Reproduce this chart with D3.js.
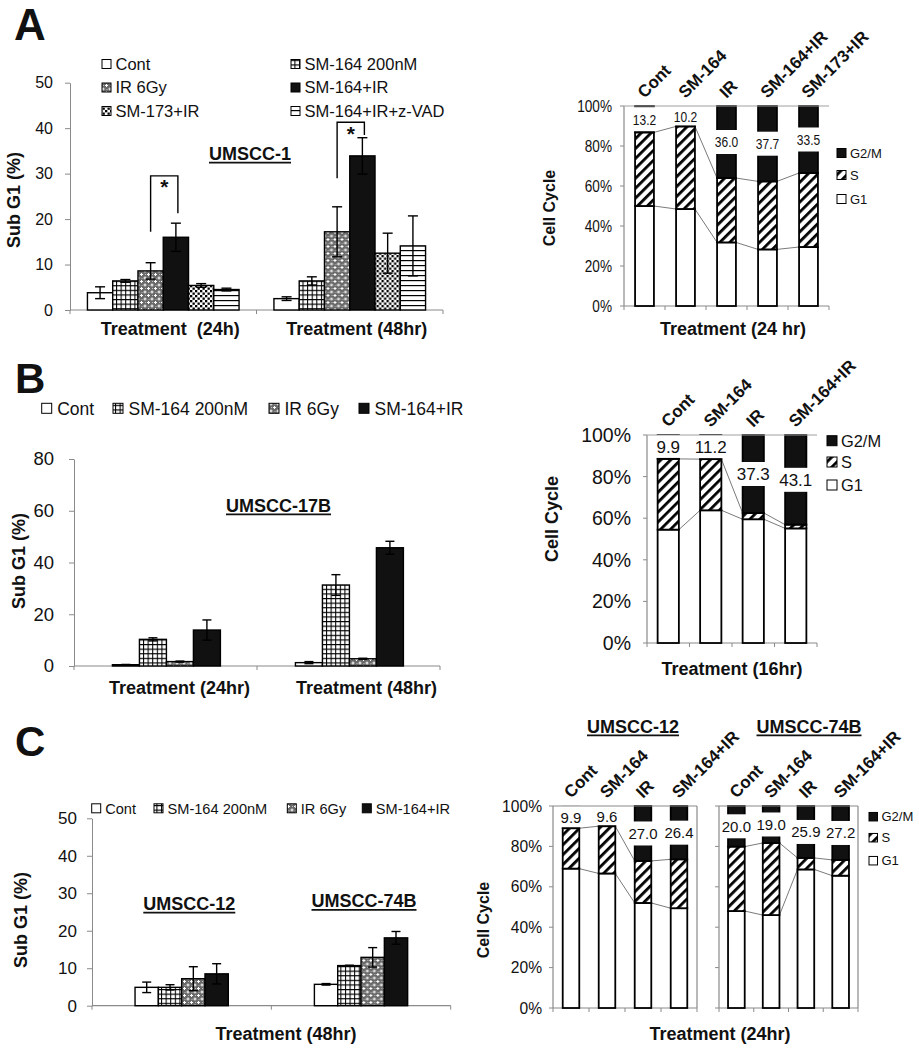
<!DOCTYPE html>
<html><head><meta charset="utf-8">
<script src="https://cdn.jsdelivr.net/npm/d3@7"></script>
<style>body{margin:0;background:#fff}svg{display:block}</style>
</head><body><svg id="c" width="919" height="1050"></svg>
<script>
// ---------------- DATA ----------------
// Panel A (left): Sub G1, UMSCC-1
const aGroups = ["Treatment  (24h)", "Treatment (48hr)"];
const aSeries = ["Cont", "SM-164 200nM", "IR 6Gy", "SM-164+IR", "SM-173+IR", "SM-164+IR+z-VAD"];
const aVal24 = [3.8, 6.4, 8.6, 16.0, 5.4, 4.5];
const aErr24 = [1.3, 0.3, 1.8, 3.1, 0.4, 0.3];
const aVal48 = [2.5, 6.4, 17.2, 33.9, 12.5, 14.1];
const aErr48 = [0.4, 0.9, 5.5, 4.0, 4.4, 6.6];
const aTicks = [0, 10, 20, 30, 40, 50];
const aSigTop = [29.5, 41.3];
const aSigLeftEnd = [17.2, 29.0];
const aSigRightEnd = [21.3, 38.5];

// Panel A (right): cell cycle 24 hr
const ccACats = ["Cont", "SM-164", "IR", "SM-164+IR", "SM-173+IR"];
const ccAG1 = [50.0, 48.5, 31.8, 28.3, 29.5];
const ccAS = [36.8, 41.3, 32.2, 34.0, 37.0];
const ccAG2M = [13.2, 10.2, 36.0, 37.7, 33.5];

// Panel B (left): Sub G1, UMSCC-17B
const bGroups = ["Treatment (24hr)", "Treatment (48hr)"];
const bSeries = ["Cont", "SM-164 200nM", "IR 6Gy", "SM-164+IR"];
const bVal24 = [0.5, 10.3, 1.7, 13.9];
const bErr24 = [0.1, 0.6, 0.2, 3.9];
const bVal48 = [1.3, 31.3, 2.8, 45.7];
const bErr48 = [0.4, 4.0, 0.2, 2.5];
const bTicks = [0, 20, 40, 60, 80];

// Panel B (right): cell cycle 16 hr
const ccBCats = ["Cont", "SM-164", "IR", "SM-164+IR"];
const ccBG1 = [54.5, 63.8, 59.5, 55.1];
const ccBS = [34.0, 24.6, 3.0, 1.8];
const ccBG2M = [9.9, 11.2, 37.3, 43.1];

// Panel C (left): Sub G1 48hr
const cGroups = ["UMSCC-12", "UMSCC-74B"];
const cSeries = ["Cont", "SM-164 200nM", "IR 6Gy", "SM-164+IR"];
const cVal12 = [4.9, 4.9, 7.2, 8.5];
const cErr12 = [1.4, 0.7, 3.2, 2.7];
const cVal74 = [5.7, 10.7, 12.9, 18.1];
const cErr74 = [0.2, 0.1, 2.6, 1.7];
const cTicks = [0, 10, 20, 30, 40, 50];

// Panel C (right): cell cycle 24hr
const ccCCats = ["Cont", "SM-164", "IR", "SM-164+IR"];
const cc12G1 = [69.0, 66.6, 52.0, 49.4];
const cc12S = [20.0, 23.4, 20.8, 24.2];
const cc12G2M = [9.9, 9.6, 27.0, 26.4];
const cc74G1 = [48.0, 46.0, 68.6, 65.5];
const cc74S = [31.9, 35.7, 5.7, 7.8];
const cc74G2M = [20.0, 19.0, 25.9, 27.2];
const ccTicks = [0, 20, 40, 60, 80, 100];

// ---------------- DRAWING ----------------
const FONT = '"Liberation Sans", Arial, Helvetica, sans-serif';
const AX = "#8a8a8a";
const svg = d3.select("#c").attr("font-family", FONT);
svg.append("rect").attr("width", 919).attr("height", 1050).attr("fill", "#fff");
const defs = svg.append("defs");

function pat(id, w, h, draw, tr) {
  const p = defs.append("pattern").attr("id", id).attr("patternUnits", "userSpaceOnUse")
    .attr("width", w).attr("height", h);
  if (tr) p.attr("patternTransform", tr);
  draw(p);
}
pat("grid", 4.6, 4.6, p => {
  p.append("rect").attr("width", 4.6).attr("height", 4.6).attr("fill", "#fff");
  p.append("path").attr("d", "M0,0.5H4.6M0.5,0V4.6").attr("stroke", "#000").attr("stroke-width", 1.1);
});
pat("ir", 7, 7, p => {
  p.append("rect").attr("width", 7).attr("height", 7).attr("fill", "#6a6a6a");
  p.append("rect").attr("x", 0).attr("y", 1).attr("width", 3).attr("height", 1).attr("fill", "#fff");
  p.append("rect").attr("x", 1).attr("y", 0).attr("width", 1).attr("height", 3).attr("fill", "#fff");
  p.append("rect").attr("x", 3.5).attr("y", 4.5).attr("width", 3).attr("height", 1).attr("fill", "#fff");
  p.append("rect").attr("x", 4.5).attr("y", 3.5).attr("width", 1).attr("height", 3).attr("fill", "#fff");
  p.append("rect").attr("x", 5).attr("y", 1).attr("width", 1).attr("height", 1).attr("fill", "#bbb");
  p.append("rect").attr("x", 1.5).attr("y", 5).attr("width", 1).attr("height", 1).attr("fill", "#bbb");
});
pat("spots", 5, 5, p => {
  p.append("rect").attr("width", 5).attr("height", 5).attr("fill", "#fff");
  p.append("rect").attr("x", 0).attr("y", 0).attr("width", 2.3).attr("height", 2.3).attr("fill", "#000");
  p.append("rect").attr("x", 2.5).attr("y", 2.5).attr("width", 2.3).attr("height", 2.3).attr("fill", "#000");
});
pat("hlines", 6, 5, p => {
  p.append("rect").attr("width", 6).attr("height", 5).attr("fill", "#fff");
  p.append("rect").attr("x", 0).attr("y", 0).attr("width", 6).attr("height", 1.2).attr("fill", "#000");
});
pat("hatch", 7, 7, p => {
  p.append("rect").attr("width", 7).attr("height", 7).attr("fill", "#fff");
  p.append("rect").attr("x", 0).attr("y", 0).attr("width", 2.8).attr("height", 7).attr("fill", "#000");
}, "rotate(45)");

const fills = {
  "Cont": "#fff", "SM-164 200nM": "url(#grid)", "IR 6Gy": "url(#ir)",
  "SM-164+IR": "#111", "SM-173+IR": "url(#spots)", "SM-164+IR+z-VAD": "url(#hlines)"
};

function txt(g, x, y, s, o = {}) {
  const t = g.append("text").text(s)
    .attr("font-size", o.size || 14)
    .attr("font-weight", o.bold ? "bold" : "normal")
    .attr("text-anchor", o.anchor || "start")
    .attr("fill", o.fill || "#111");
  let tr = `translate(${x},${y})`;
  if (o.rotate) tr += ` rotate(${o.rotate})`;
  if (o.sx) tr += ` scale(${o.sx},1)`;
  t.attr("transform", tr);
  if (o.pre) t.style("white-space", "pre");
  return t;
}
function underlined(g, x, y, s, size) {
  const t = txt(g, x, y, s, { size, bold: true, anchor: "middle" });
  const w = t.node().getComputedTextLength();
  g.append("line").attr("x1", x - w / 2).attr("x2", x + w / 2)
    .attr("y1", y + 2.6).attr("y2", y + 2.6).attr("stroke", "#111").attr("stroke-width", 1.7);
}

// ---------- Sub G1 grouped bar chart ----------
function subG1(cfg) {
  const g = svg.append("g");
  const y = d3.scaleLinear().domain([0, cfg.max]).range([cfg.yb, cfg.yt]);
  const x0 = d3.scaleBand().domain(cfg.groups).range([cfg.x0, cfg.x1]);
  const bw = x0.bandwidth();
  const x1 = d3.scaleBand().domain(cfg.series).range([bw * cfg.inner[0], bw * cfg.inner[1]]);
  const ya = d3.axisLeft(y).tickValues(cfg.ticks).tickSize(5).tickSizeOuter(0)
    .tickPadding(cfg.tickPad).tickFormat(d3.format("d"));
  const yg = g.append("g").attr("transform", `translate(${cfg.x0},0)`).call(ya)
    .attr("font-family", FONT);
  yg.select(".domain").attr("stroke", AX);
  yg.selectAll(".tick line").attr("stroke", AX);
  yg.selectAll(".tick text").attr("font-size", cfg.tickFont).attr("fill", "#111");
  g.append("line").attr("x1", cfg.x0).attr("x2", cfg.x1).attr("y1", cfg.yb).attr("y2", cfg.yb)
    .attr("stroke", AX).attr("stroke-width", 1.2);
  const bounds = cfg.groups.map(d => x0(d)).concat([cfg.x1]);
  g.selectAll(null).data(bounds).join("line")
    .attr("x1", d => d).attr("x2", d => d).attr("y1", cfg.yb).attr("y2", cfg.yb + 4)
    .attr("stroke", AX);
  cfg.groups.forEach((grp, gi) => {
    const gg = g.append("g").attr("transform", `translate(${x0(grp)},0)`);
    const rows = cfg.series.map((s, si) => ({ s, v: cfg.vals[gi][si], e: cfg.errs[gi][si] }));
    gg.selectAll("rect.bar").data(rows).join("rect").attr("class", "bar")
      .attr("x", d => x1(d.s)).attr("width", x1.bandwidth())
      .attr("y", d => y(d.v)).attr("height", d => cfg.yb - y(d.v))
      .attr("fill", d => fills[d.s]).attr("stroke", "#000").attr("stroke-width", 1.4);
    const eb = gg.selectAll("g.err").data(rows).join("g").attr("class", "err")
      .attr("transform", d => `translate(${x1(d.s) + x1.bandwidth() / 2},0)`);
    eb.append("line").attr("y1", d => y(Math.max(0, d.v - d.e))).attr("y2", d => y(d.v + d.e))
      .attr("stroke", "#000").attr("stroke-width", 1.4);
    eb.append("line").attr("x1", -cfg.cap / 2).attr("x2", cfg.cap / 2)
      .attr("y1", d => y(d.v + d.e)).attr("y2", d => y(d.v + d.e)).attr("stroke", "#000").attr("stroke-width", 1.4);
    eb.append("line").attr("x1", -cfg.cap / 2).attr("x2", cfg.cap / 2)
      .attr("y1", d => y(Math.max(0, d.v - d.e))).attr("y2", d => y(Math.max(0, d.v - d.e)))
      .attr("stroke", "#000").attr("stroke-width", 1.4);
  });
  return { g, y, x0, x1, bw };
}

// ---------- Cell-cycle stacked bars ----------
function cellCycle(cfg) {
  const g = svg.append("g");
  const y = d3.scaleLinear().domain([0, 100]).range([cfg.yb, cfg.yt]);
  const x = d3.scaleBand().domain(cfg.cats).range([cfg.x0, cfg.x1])
    .paddingInner(cfg.pad).paddingOuter(cfg.pad / 2);
  const bw = x.bandwidth();
  g.append("line").attr("x1", cfg.x0).attr("x2", cfg.x0).attr("y1", cfg.yt).attr("y2", cfg.yb).attr("stroke", AX).attr("stroke-width", 1.2);
  g.append("line").attr("x1", cfg.x0).attr("x2", cfg.x1).attr("y1", cfg.yb).attr("y2", cfg.yb).attr("stroke", AX).attr("stroke-width", 1.2);
  if (cfg.frame) {
    g.append("line").attr("x1", cfg.x1).attr("x2", cfg.x1).attr("y1", cfg.yt).attr("y2", cfg.yb).attr("stroke", AX).attr("stroke-width", 1.2);
  }
  g.selectAll(null).data(ccTicks).join("line")
    .attr("x1", cfg.x0 - 4).attr("x2", cfg.x0).attr("y1", d => y(d)).attr("y2", d => y(d)).attr("stroke", AX);
  const step = x.step();
  g.selectAll(null).data(d3.range(cfg.cats.length + 1)).join("line")
    .attr("x1", i => cfg.x0 + i * step).attr("x2", i => cfg.x0 + i * step)
    .attr("y1", cfg.yb).attr("y2", cfg.yb + 4).attr("stroke", AX);
  if (cfg.tickLabels) {
    ccTicks.forEach(d => txt(g, cfg.tickRight, y(d) + cfg.tickFont * 0.36, d + "%",
      { size: cfg.tickFont, anchor: "end", sx: cfg.tickSx }));
  }
  const rows = cfg.cats.map((c, i) => ({ c, g1: cfg.g1[i], s: cfg.s[i], g2: cfg.g2m[i] }));
  for (let i = 0; i < rows.length - 1; i++) {
    [[rows[i].g1, rows[i + 1].g1], [rows[i].g1 + rows[i].s, rows[i + 1].g1 + rows[i + 1].s]].forEach(([a, b]) => {
      g.append("line").attr("x1", x(rows[i].c) + bw).attr("x2", x(rows[i + 1].c))
        .attr("y1", y(a)).attr("y2", y(b)).attr("stroke", "#7a7a7a").attr("stroke-width", 1);
    });
  }
  const bars = g.selectAll("g.bar").data(rows).join("g").attr("class", "bar");
  bars.append("rect").attr("x", d => x(d.c)).attr("width", bw)
    .attr("y", d => y(d.g1)).attr("height", d => cfg.yb - y(d.g1))
    .attr("fill", "#fff").attr("stroke", "#000").attr("stroke-width", 1.8);
  bars.append("rect").attr("x", d => x(d.c)).attr("width", bw)
    .attr("y", d => y(d.g1 + d.s)).attr("height", d => y(d.g1) - y(d.g1 + d.s))
    .attr("fill", "url(#hatch)").attr("stroke", "#000").attr("stroke-width", 1.8);
  bars.append("rect").attr("x", d => x(d.c)).attr("width", bw)
    .attr("y", y(100)).attr("height", d => y(d.g1 + d.s) - y(100))
    .attr("fill", "#111").attr("stroke", "#000").attr("stroke-width", 1.8);
  bars.each(function (d) {
    const st = d.g1 + d.s;
    const yc = y(st + (100 - st) / 2);
    const top = Math.max(yc - 12, y(100) - 1);
    const bot = Math.min(yc + 12, y(st) - 1);
    const sel = d3.select(this);
    sel.append("rect").attr("x", x(d.c) - 2).attr("width", bw + 4)
      .attr("y", top).attr("height", Math.max(0, bot - top)).attr("fill", "#fff");
    txt(sel, x(d.c) + bw / 2, yc + cfg.valFont * 0.36, d3.format(".1f")(d.g2),
      { size: cfg.valFont, anchor: "middle", sx: cfg.valSx });
  });
  g.append("line").attr("x1", cfg.x0).attr("x2", cfg.x1).attr("y1", cfg.yt).attr("y2", cfg.yt)
    .attr("stroke", cfg.frame ? AX : "#a0a0a0").attr("stroke-width", cfg.frame ? 1.2 : 1);
  rows.forEach(d => txt(g, x(d.c) + bw / 2, cfg.yt - 7, d.c, { size: cfg.catFont, bold: true, rotate: -45 }));
  return { g, x, y };
}

function ccLegend(lx, ys, size, font) {
  const g = svg.append("g");
  const items = [["G2/M", "#111"], ["S", "url(#hatch)"], ["G1", "#fff"]];
  items.forEach(([lab, f], i) => {
    g.append("rect").attr("x", lx).attr("y", ys[i] - size / 2).attr("width", size).attr("height", size)
      .attr("fill", f).attr("stroke", "#000").attr("stroke-width", 1);
    txt(g, lx + size + 4, ys[i] + font * 0.36, lab, { size: font });
  });
}
function sgLegend(items, xs, ys, size, font, gap) {
  const g = svg.append("g");
  items.forEach((lab, i) => {
    g.append("rect").attr("x", xs[i]).attr("y", ys[i] - size / 2).attr("width", size).attr("height", size)
      .attr("fill", fills[lab]).attr("stroke", "#000").attr("stroke-width", 1);
    txt(g, xs[i] + size + gap, ys[i] + font * 0.36, lab, { size: font });
  });
}

const lab = svg.append("g");

// ================= PANEL A =================
txt(lab, 14, 40, "A", { size: 44, bold: true });
const A = subG1({
  x0: 70, x1: 443, yb: 310, yt: 82.7, max: 50, ticks: aTicks, groups: aGroups, series: aSeries,
  vals: [aVal24, aVal48], errs: [aErr24, aErr48], inner: [0.0935, 0.9065],
  tickFont: 16, tickPad: 12, cap: 10
});
aGroups.forEach(gname => txt(lab, A.x0(gname) + A.bw / 2 + 7, 335, gname, { size: 18, bold: true, anchor: "middle", pre: true }));
txt(lab, 19.5, 200, "Sub G1 (%)", { size: 18, bold: true, anchor: "middle", rotate: -90 });
underlined(lab, 250, 160, "UMSCC-1", 18);
aGroups.forEach((gname, gi) => {
  const xl = A.x0(gname) + A.x1("IR 6Gy") + A.x1.bandwidth() / 2;
  const xr = A.x0(gname) + A.x1("SM-164+IR") + A.x1.bandwidth() / 2 + 2;
  const yt = A.y(aSigTop[gi]);
  lab.append("path").attr("d", `M${xl},${A.y(aSigLeftEnd[gi])}V${yt}H${xr}V${A.y(aSigRightEnd[gi])}`)
    .attr("fill", "none").attr("stroke", "#000").attr("stroke-width", 1.4);
  txt(lab, (xl + xr) / 2, yt + 18.5, "*", { size: 21, bold: true, anchor: "middle" });
});
sgLegend(["Cont", "IR 6Gy", "SM-173+IR", "SM-164 200nM", "SM-164+IR", "SM-164+IR+z-VAD"],
  [102, 102, 102, 291, 291, 291], [64, 87.5, 111, 64, 87.5, 111], 9, 16.5, 4.5);

cellCycle({
  x0: 624, x1: 829, yb: 306, yt: 106, pad: 0.54, cats: ccACats, g1: ccAG1, s: ccAS, g2m: ccAG2M,
  tickLabels: true, tickFont: 16, tickSx: 0.85, tickRight: 612, valFont: 15, valSx: 0.8, catFont: 17, frame: false
});
ccLegend(837, [153, 175, 199], 9, 13);
txt(lab, 555, 208, "Cell Cycle", { size: 16, bold: true, anchor: "middle", rotate: -90 });
txt(lab, 733, 335, "Treatment (24 hr)", { size: 18, bold: true, anchor: "middle" });

// ================= PANEL B =================
txt(lab, 15, 393, "B", { size: 42, bold: true });
const B = subG1({
  x0: 74, x1: 440, yb: 666, yt: 459, max: 80, ticks: bTicks, groups: bGroups, series: bSeries,
  vals: [bVal24, bVal48], errs: [bErr24, bErr48], inner: [0.21, 0.8],
  tickFont: 18.5, tickPad: 15, cap: 9
});
bGroups.forEach((gname, gi) => txt(lab, B.x0(gname) + B.bw / 2 + 14 + gi * 4, 694, gname, { size: 18, bold: true, anchor: "middle" }));
txt(lab, 24.5, 561, "Sub G1 (%)", { size: 18, bold: true, anchor: "middle", rotate: -90 });
underlined(lab, 278.5, 511.7, "UMSCC-17B", 18);
sgLegend(bSeries, [41.7, 113, 269, 359], [408.3, 408.3, 408.3, 408.3], 10, 17.5, 5.5);

cellCycle({
  x0: 647, x1: 817, yb: 643, yt: 435, pad: 0.5, cats: ccBCats, g1: ccBG1, s: ccBS, g2m: ccBG2M,
  tickLabels: true, tickFont: 19.5, tickSx: 1, tickRight: 631, valFont: 17, valSx: 1, catFont: 17, frame: false
});
ccLegend(827, [440.7, 462, 485], 10, 16.4);
txt(lab, 557.5, 519, "Cell Cycle", { size: 18, bold: true, anchor: "middle", rotate: -90 });
txt(lab, 732, 675, "Treatment (16hr)", { size: 18, bold: true, anchor: "middle" });

// ================= PANEL C =================
txt(lab, 15, 756, "C", { size: 42, bold: true });
const C = subG1({
  x0: 92, x1: 450.7, yb: 1005.7, yt: 818.3, max: 50, ticks: cTicks, groups: cGroups, series: cSeries,
  vals: [cVal12, cVal74], errs: [cErr12, cErr74], inner: [0.24, 0.76],
  tickFont: 17, tickPad: 10, cap: 9
});
underlined(lab, 189.3, 910, "UMSCC-12", 18);
underlined(lab, 364, 907.3, "UMSCC-74B", 18);
txt(lab, 286, 1040, "Treatment (48hr)", { size: 18, bold: true, anchor: "middle" });
txt(lab, 26.5, 920, "Sub G1 (%)", { size: 18, bold: true, anchor: "middle", rotate: -90 });
sgLegend(cSeries, [91.7, 154, 287.3, 362.3], [808.3, 808.3, 808.3, 808.3], 9, 14.6, 4.5);

cellCycle({
  x0: 553, x1: 697, yb: 1008, yt: 806, pad: 0.54, cats: ccCCats, g1: cc12G1, s: cc12S, g2m: cc12G2M,
  tickLabels: true, tickFont: 15.6, tickSx: 1, tickRight: 542, valFont: 15, valSx: 1, catFont: 17, frame: true
});
cellCycle({
  x0: 719, x1: 858, yb: 1008, yt: 806, pad: 0.52, cats: ccCCats, g1: cc74G1, s: cc74S, g2m: cc74G2M,
  tickLabels: false, valFont: 15, valSx: 1, catFont: 17, frame: true
});
underlined(lab, 633, 732.7, "UMSCC-12", 18);
underlined(lab, 809, 732.7, "UMSCC-74B", 18);
ccLegend(869, [816.7, 837.7, 860.7], 8.5, 13);
txt(lab, 488.5, 920, "Cell Cycle", { size: 16, bold: true, anchor: "middle", rotate: -90 });
txt(lab, 720, 1040, "Treatment (24hr)", { size: 18, bold: true, anchor: "middle" });
</script></body></html>
